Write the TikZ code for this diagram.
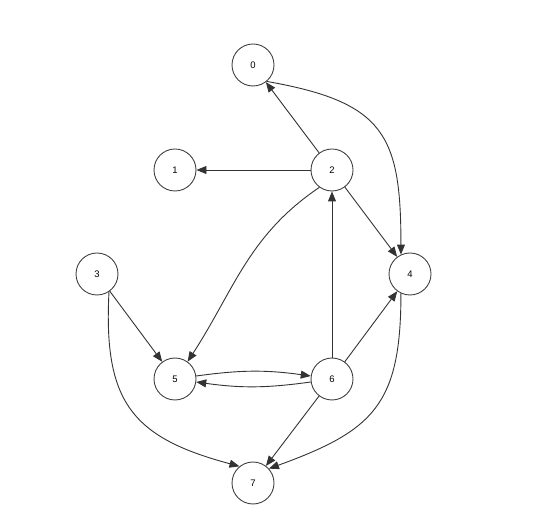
\documentclass[tikz,border=0pt]{standalone}
\usepackage{fontspec}
\setmainfont{Liberation Sans}
\usetikzlibrary{arrows.meta}

\begin{document}
\begin{tikzpicture}[x=1pt,y=1pt,
        vertex/.style={circle,draw=black!75,line width=0.9pt,minimum size=42pt,inner sep=0pt,font=\fontsize{9.5}{10}\selectfont},
        edge/.style={->,>={Triangle[length=10pt,width=8pt]},line width=0.9pt,draw=black!80}]
        \useasboundingbox (0,0) rectangle (551,511);
        %頂点
        \foreach \n/\x/\y in {0/253/446,1/175/341,2/332/341,3/97/237,4/410/237,5/175/132,6/332/132,7/253/28}
            \node[vertex] (n\n) at (\x,\y) {\n};
        %直線の辺
        \foreach \a/\b in {2/0,2/1,2/4,3/5,6/2,6/4,6/7} \draw[edge] (n\a)--(n\b);
        %曲線の辺
        \draw[edge] (n0.-50) to[out=-10,in=90,looseness=1.4] (n4.115);
        \draw[edge] (n2.-126) to[out=-146,in=57] (n5.54);
        \draw[edge] (n3.-56) to[out=-93,in=165,looseness=1.3] (n7.129);
        \draw[edge] (n4.-115) to[out=-90,in=20,looseness=1.3] (n7.42);
        %5と6の間
        \draw[edge] (n5) to[bend left=8] (n6);
        \draw[edge] (n6) to[bend left=8] (n5);
    \end{tikzpicture}
\end{document}
